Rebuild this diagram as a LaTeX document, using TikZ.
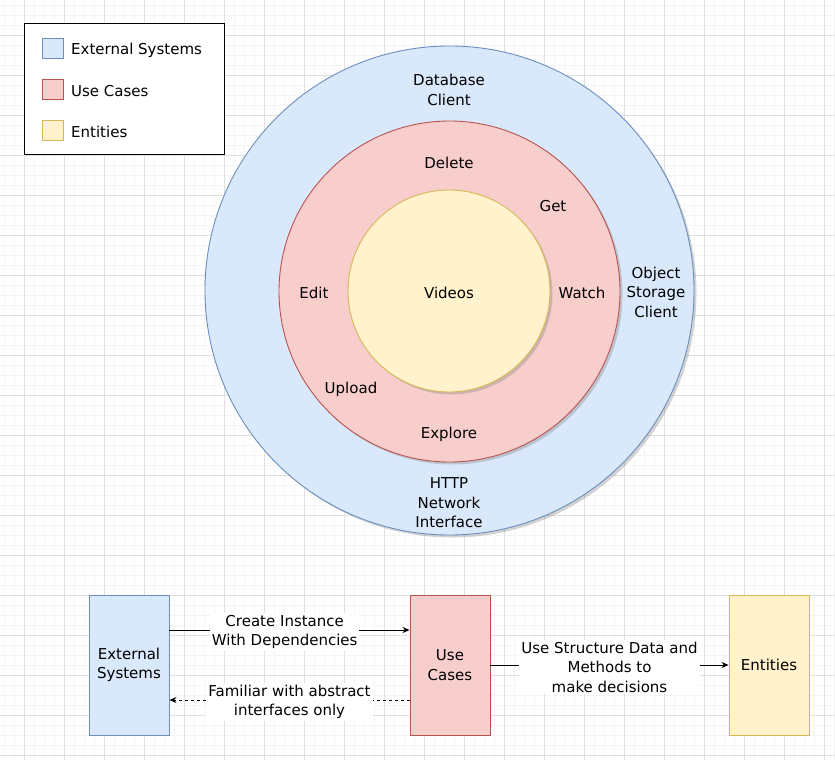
\documentclass[tikz,border=0pt]{standalone}
\usepackage{fontspec}
\setmainfont{DejaVu Sans}
\usetikzlibrary{
    arrows.meta,
    shadows,
    positioning
}
\definecolor{extfill}{HTML}{DAE8FC}
\definecolor{extline}{HTML}{6C8EBF}
\definecolor{usefill}{HTML}{F8CECC}
\definecolor{useline}{HTML}{B85450}
\definecolor{entfill}{HTML}{FFF2CC}
\definecolor{entline}{HTML}{D6B656}

\begin{document}
\begin{tikzpicture}[
    x=1pt, y=-1pt,
    font=\fontsize{15}{19.5}\selectfont,
    minorgrid/.style={draw=black!4, line width=0.6pt},
    majorgrid/.style={draw=black!12, line width=0.8pt},
    ring/.style={circle, line width=0.9pt, drop shadow={shadow xshift=2.5pt, shadow yshift=-2.5pt, opacity=.35}},
    extsty/.style={fill=extfill, draw=extline},
    usesty/.style={fill=usefill, draw=useline},
    entsty/.style={fill=entfill, draw=entline},
    swatch/.style={minimum width=21pt, minimum height=20pt, line width=0.8pt, inner sep=0pt},
    layerbox/.style={minimum width=80pt, minimum height=140pt, line width=0.9pt, align=center},
    txt/.style={align=center, inner sep=1pt},
    flow/.style={-{Stealth[length=7pt, width=6pt]}, line width=1pt},
    flowlabel/.style={fill=white, align=center, inner sep=2pt}
]
    \useasboundingbox (0,0) rectangle (835,760);

    % background grid
    \foreach \gx in {4,14,...,834} \draw[minorgrid] (\gx,0) -- (\gx,760);
    \foreach \gy in {5,15,...,755} \draw[minorgrid] (0,\gy) -- (835,\gy);
    \foreach \gx in {24,64,...,824} \draw[majorgrid] (\gx,0) -- (\gx,760);
    \foreach \gy in {35,75,...,755} \draw[majorgrid] (0,\gy) -- (835,\gy);

    % legend
    \node[draw=black, fill=white, line width=1pt, minimum width=200pt, minimum height=130pt] (legend) at (124,89) {};
    \node[swatch, extsty] (keyext) at (52.5,48) {};
    \node[swatch, usesty] (keyuse) at (52.5,89) {};
    \node[swatch, entsty] (keyent) at (52.5,130) {};
    \node[anchor=west, inner sep=0pt] (keyexttext) at (71,50) {External Systems};
    \node[anchor=west, inner sep=0pt] (keyusetext) at (71,91) {Use Cases};
    \node[anchor=west, inner sep=0pt] (keyenttext) at (71,132) {Entities};

    % onion layers
    \node[ring, extsty, minimum size=489pt] (outer) at (449.5,290.5) {};
    \node[ring, usesty, minimum size=341pt] (middle) at (449.5,291.5) {};
    \node[ring, entsty, minimum size=202pt] (inner) at (449,291) {};

    \node[txt] (dbclient) at (449,90) {Database\\Client};
    \node[txt] (objclient) at (656,292) {Object\\Storage\\Client};
    \node[txt] (httpif) at (449,503) {HTTP\\Network\\Interface};

    \node[txt] (delete) at (449,163) {Delete};
    \node[txt] (get) at (553,206) {Get};
    \node[txt] (edit) at (314,293) {Edit};
    \node[txt] (watch) at (582,293) {Watch};
    \node[txt] (upload) at (351,389) {Upload};
    \node[txt] (explore) at (449,434) {Explore};

    \node[txt] (videos) at (449,293) {Videos};

    % dependency flow
    \node[layerbox, extsty] (extsys) at (129,665) {External\\Systems};
    \node[layerbox, usesty] (usecase) at (450,665) {Use\\Cases};
    \node[layerbox, entsty] (entity) at (769,665) {Entities};

    \draw[flow] ([yshift=35pt]extsys.east) -- node[flowlabel, pos=0.48, yshift=-2pt] {Create Instance\\With Dependencies} ([yshift=35pt]usecase.west);
    \draw[flow, dashed] ([yshift=-35pt]usecase.west) -- node[flowlabel, yshift=-2pt] {Familiar with abstract\\interfaces only} ([yshift=-35pt]extsys.east);
    \draw[flow] (usecase) -- node[flowlabel, yshift=-2pt] {Use Structure Data and\\Methods to\\make decisions} (entity);
\end{tikzpicture}
\end{document}
